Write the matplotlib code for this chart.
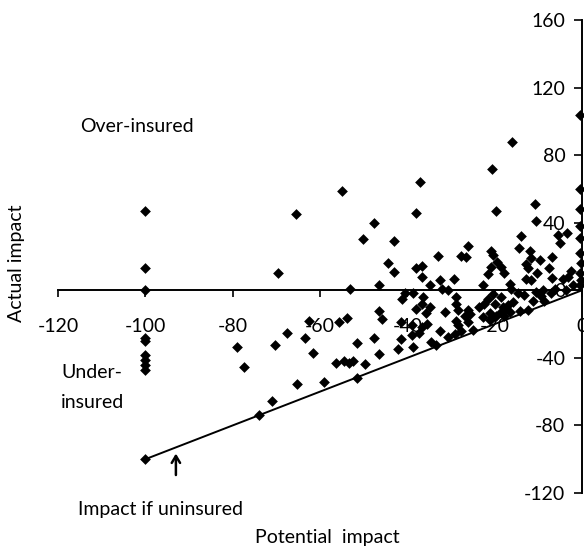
import matplotlib
matplotlib.use("Agg")
import matplotlib.pyplot as plt

# Potential impact (x) and actual impact (y) of each case
potential = [
    -0.5, -0.5, -0.5, -0.5, -0.5, -0.5, -0.3, -0.5, -0.3, -0.5,
    -37, -20.5, -16,
    -38, -19.6, -10.7, -10.5, -43, -14, -5.5, -3.4, -5,
    -26, -14.4, -11.9, -33, -27.6, -26.5, -20.8, -20.3,
    -11.6, -9.6, -6.8, -44.5, -43, -38, -36.7,
    -19.4, -18.5, -17.8, -20.8,
    -21.5, -12.8, -12.3, -11.6, -10.3, -12.8, -6.8, -4.3, -3.2, -2.5,
    -36.7, -32.6, -29.4, -34.7, -46.6, -32, -30.6, -22.6, -16.4, -16.2,
    -14.6, -13.2, -8.9, -7.1, -6.2, -38.6, -40.6, -41.3, -36.3,
    -36.7, -34.7, -28.8, -28.8, -20.3, -21.5, -22.4, -23.7, -18,
    -11.2, -9.4, -8.7, -38.1, -35.8, -31.3, -28.5, -26.2, -25.6,
    -26.7, -46.6, -45.9, -41.5, -39, -36.7, -35.6, -28.8, -28.5,
    -24.9, -20.5, -19.6, -18.5, -17.6, -21, -37.4, -32.6, -29,
    -27.6, -41.5, -39, -34.5, -33.5, -30.6, -42.2, -38.8, -46.6,
    -26, -7.5, -2, -10.5, -19.9, -18.5, -16.9, -15.7, -14.1, -16.4,
    -17.8, -21, -12.3, -3.7, -22.6,
    -55, -65.5, -47.7, -50.2, -69.6, -53.2, -53.9, -55.7, -62.5,
    -67.5, -63.4, -70.3, -51.6, -47.7, -61.6, -56.4, -54.5,
    -53.4, -52.5, -49.7,
    -100, -74, -71, -65.3, -59.1, -51.6,
    -100, -100, -100, -100, -100, -100, -100, -100, -100,
    -79, -77.4,
]
actual = [
    104, 60, 48, 38, 31, 22, 16, 10, 6, 3,
    64, 72, 88,
    46, 47, 51, 41, 29, 32, 33, 34, 28,
    26, 25, 23, 20.5, 20.4, 19.7, 23, 20.7,
    19.3, 18.1, 19.7, 16.1, 10.7, 13, 14.1,
    16.6, 13.6, 10.1, 13.6,
    9.5, 15.7, 13.4, 6.3, 10.4, 6.9, 7.3, 6.6, 7.8, 11.3,
    7.6, 6.3, 6.8, 3.4, 3.1, 1, 0.3, 3, 4, 0.5,
    -1.4, -2.6, 0.2, -1.6, 0.8, -1.8, -1.8, -5.3, -3.7,
    -8.4, -9.7, -3.9, -8.1, -2.4, -5.3, -8.2, -9.9, -10.1,
    -6.2, -3.3, -6.3, -11.3, -13.7, -12.7, -11.6, -11.7, -14,
    -15.2, -12.3, -17, -18.9, -20.7, -22, -19.7, -18.1, -20.5,
    -23.6, -16, -15.4, -13, -11.3, -13.6, -25.5, -23.9, -25.8,
    -24.1, -29, -26.7, -30.4, -32.2, -27.5, -34.9, -33.8, -37.7,
    -18.8, 13.3, 3, -1, -8.3, -4.1, -9, -7.2, -12, -13.1,
    -15.5, -17.8, -11.6, 0.1, -15.9,
    59, 45, 40, 30.5, 10.4, 1, -16.2, -19, -18.3,
    -25.2, -28.3, -32.3, -31, -28.2, -37.2, -43.3, -42,
    -43.3, -42, -43.5,
    -100, -74, -65.6, -55.5, -54.5, -51.7,
    47, 13, 0, -28.4, -30.2, -38.5, -41.4, -44.4, -47.4,
    -33.7, -45.6,
]

# "Impact if uninsured": actual impact equals potential impact
uninsured_x = [-100, 0]
uninsured_y = [-100, 0]

x_ticks = [-120, -100, -80, -60, -40, -20, 0]
y_ticks = [-120, -80, -40, 0, 40, 80, 120, 160]

plt.rcParams["font.family"] = ["Lato", "DejaVu Sans"]
plt.rcParams["axes.unicode_minus"] = False

fig = plt.figure(figsize=(5.84, 5.5), dpi=100)
ax = fig.add_axes([58 / 584, 1 - 493 / 550, 524 / 584, 473 / 550])

ax.plot(uninsured_x, uninsured_y, color="black", lw=1.4, zorder=2)
ax.scatter(potential, actual, marker="D", s=30, c="black",
           linewidths=0, clip_on=False, zorder=3)

ax.set_xlim(-120, 0)
ax.set_ylim(-120, 160)
ax.set_xticks(x_ticks)
ax.set_yticks(y_ticks)

# axes cross at the origin, y axis sits on the right edge
ax.spines["left"].set_position(("data", 0))
ax.spines["bottom"].set_position(("data", 0))
ax.spines["top"].set_visible(False)
ax.spines["right"].set_visible(False)
for side in ["left", "bottom"]:
    ax.spines[side].set_linewidth(1.4)
ax.xaxis.set_ticks_position("bottom")
ax.yaxis.set_ticks_position("left")
ax.tick_params(axis="y", direction="out", length=6, width=1.2, pad=6, labelsize=14)
ax.tick_params(axis="x", direction="out", length=5, width=1.2, pad=15, labelsize=14)

ax.annotate("", xy=(-93, -95), xytext=(-93, -111),
            arrowprops=dict(arrowstyle="->,head_length=0.5,head_width=0.3",
                            lw=1.8, color="black"),
            annotation_clip=False)

fig.text(80 / 584, 1 - 127 / 550, "Over-insured", fontsize=14, va="center")
fig.text(61 / 584, 1 - 373 / 550, "Under-", fontsize=14, va="center")
fig.text(61 / 584, 1 - 402 / 550, "insured", fontsize=14, va="center")
fig.text(78 / 584, 1 - 509 / 550, "Impact if uninsured", fontsize=14, va="center")
fig.text(255 / 584, 1 - 538 / 550, "Potential  impact", fontsize=14, va="center")
fig.text(17 / 584, 1 - 263 / 550, "Actual impact", fontsize=14,
         rotation=90, ha="center", va="center")

fig.savefig("out.png", dpi=100)
